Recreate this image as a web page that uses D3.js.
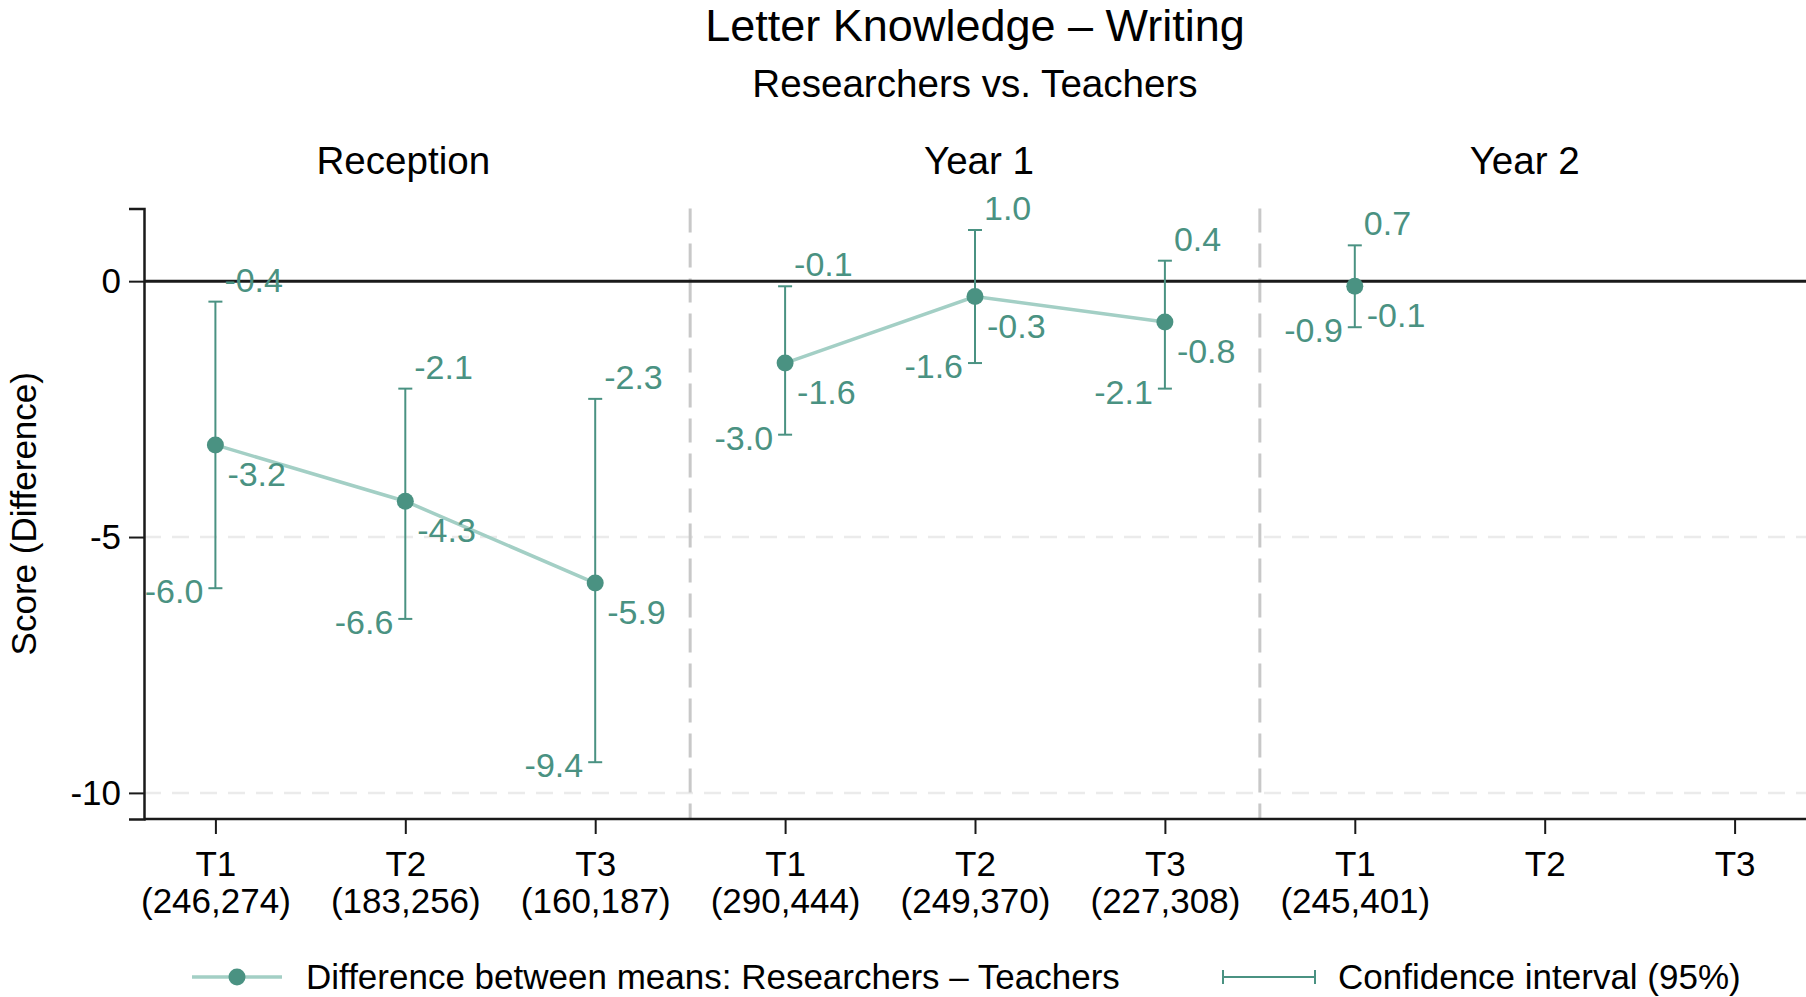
<!DOCTYPE html>
<html>
<head>
<meta charset="utf-8">
<script src="https://cdn.jsdelivr.net/npm/d3@7"></script>
<style>
  body { margin: 0; background: #fff; }
  svg { display: block; font-family: "Liberation Sans", Arial, sans-serif; }
</style>
</head>
<body>
<svg id="chart" width="1806" height="997"></svg>
<script>
// Facets and time points
const groups = ["Reception", "Year 1", "Year 2"];
const times = ["T1", "T2", "T3"];
// Sample sizes (researchers, teachers) shown under each tick
const sampleSizes = [
  "(246,274)", "(183,256)", "(160,187)",
  "(290,444)", "(249,370)", "(227,308)",
  "(245,401)", "", ""
];
// Difference between means and 95% CI, in group/time order
const means = [-3.2, -4.3, -5.9, -1.6, -0.3, -0.8, -0.1, null, null];
const lower = [-6.0, -6.6, -9.4, -3.0, -1.6, -2.1, -0.9, null, null];
const upper = [-0.4, -2.1, -2.3, -0.1, 1.0, 0.4, 0.7, null, null];
const yTicks = [0, -5, -10];

const teal = "#4a9282";
const lightTeal = "#a3cfc5";
const W = 1806, H = 997;
const margin = { top: 208.5, right: 0, bottom: 178, left: 144 };
const titleNudge = [-2, 4, -20]; // facet titles sit slightly off the middle tick

const svg = d3.select("#chart");

// one key per slot, e.g. "Reception|T1"
const keys = [];
groups.forEach((g) => times.forEach((t) => keys.push(g + "|" + t)));

const rows = keys.map((k, i) => ({
  key: k,
  group: k.split("|")[0],
  time: k.split("|")[1],
  n: sampleSizes[i],
  mean: means[i],
  lo: lower[i],
  hi: upper[i],
}));

const x = d3.scalePoint()
  .domain(keys)
  .range([margin.left, W - margin.right])
  .padding(0.376);

const y = d3.scaleLinear()
  .domain([-10.51, 1.42])
  .range([H - margin.bottom, margin.top]);

// Titles
svg.append("text")
  .attr("x", 975).attr("y", 41)
  .attr("text-anchor", "middle")
  .attr("font-size", 45)
  .text("Letter Knowledge – Writing");

svg.append("text")
  .attr("x", 975).attr("y", 97)
  .attr("text-anchor", "middle")
  .attr("font-size", 38.6)
  .text("Researchers vs. Teachers");

// facet titles centred over each group's middle slot
svg.selectAll(".facet-title")
  .data(groups)
  .enter()
  .append("text")
  .attr("class", "facet-title")
  .attr("x", (g, i) => x(g + "|T2") + titleNudge[i])
  .attr("y", 174)
  .attr("text-anchor", "middle")
  .attr("font-size", 38.6)
  .text((g) => g);

// Gridlines (dashed, light)
svg.append("g")
  .selectAll("line")
  .data(yTicks.filter((d) => d !== 0))
  .enter()
  .append("line")
  .attr("x1", margin.left).attr("x2", W - margin.right)
  .attr("y1", (d) => y(d)).attr("y2", (d) => y(d))
  .attr("stroke", "#ebebeb")
  .attr("stroke-width", 2.5)
  .attr("stroke-dasharray", "17,11");

// Group separators halfway between last slot of a group and first of the next
const step = x.step();
svg.append("g")
  .selectAll("line")
  .data(groups.slice(1))
  .enter()
  .append("line")
  .attr("x1", (g) => x(g + "|T1") - step / 2)
  .attr("x2", (g) => x(g + "|T1") - step / 2)
  .attr("y1", margin.top)
  .attr("y2", H - margin.bottom)
  .attr("stroke", "#c8c8c8")
  .attr("stroke-width", 3)
  .attr("stroke-dasharray", "24,11");

// Zero reference line
svg.append("line")
  .attr("x1", margin.left).attr("x2", W - margin.right)
  .attr("y1", y(0)).attr("y2", y(0))
  .attr("stroke", "#1a1a1a")
  .attr("stroke-width", 3);

// Y axis
const yAxis = svg.append("g")
  .attr("transform", `translate(${margin.left},0)`)
  .call(d3.axisLeft(y).tickValues(yTicks).tickSize(15).tickPadding(8).tickFormat(d3.format("d")));
yAxis.select(".domain").attr("stroke", "#1a1a1a").attr("stroke-width", 2.5);
yAxis.selectAll(".tick line").attr("stroke", "#1a1a1a").attr("stroke-width", 2);
yAxis.selectAll(".tick text")
  .attr("font-size", 35)
  .attr("font-family", "Liberation Sans, Arial, sans-serif")
  .attr("fill", "#000")
  .text((d) => (d < 0 ? "-" + Math.abs(d) : d));

svg.append("text")
  .attr("transform", `translate(35.5, ${(margin.top + H - margin.bottom) / 2}) rotate(-90)`)
  .attr("text-anchor", "middle")
  .attr("font-size", 35)
  .text("Score (Difference)");

// X axis
const xAxis = svg.append("g")
  .attr("transform", `translate(0,${H - margin.bottom})`)
  .call(d3.axisBottom(x).tickSize(15).tickFormat(""));
xAxis.select(".domain").attr("stroke", "#1a1a1a").attr("stroke-width", 2.5)
  .attr("d", `M${margin.left},0H${W - margin.right}`);
xAxis.selectAll(".tick line").attr("stroke", "#1a1a1a").attr("stroke-width", 2);

const tickText = xAxis.selectAll(".tick text")
  .text(null)
  .attr("y", null)
  .attr("dy", null)
  .attr("font-size", 35)
  .attr("font-family", "Liberation Sans, Arial, sans-serif")
  .attr("fill", "#000");
tickText.append("tspan")
  .attr("x", 0).attr("y", 57)
  .text((k) => k.split("|")[1]);
tickText.append("tspan")
  .attr("x", 0).attr("y", 94)
  .text((k, i) => sampleSizes[i]);

const valid = rows.filter((d) => d.mean !== null);

// Connecting lines within each group
const line = d3.line().x((d) => x(d.key)).y((d) => y(d.mean));
svg.append("g")
  .selectAll("path")
  .data(groups.map((g) => valid.filter((d) => d.group === g)))
  .enter()
  .append("path")
  .attr("d", line)
  .attr("fill", "none")
  .attr("stroke", lightTeal)
  .attr("stroke-width", 3.5);

// Confidence intervals
const capW = 7;
const ci = svg.append("g")
  .selectAll("g")
  .data(valid)
  .enter()
  .append("g")
  .attr("stroke", teal)
  .attr("stroke-width", 2);
ci.append("line")
  .attr("x1", (d) => x(d.key)).attr("x2", (d) => x(d.key))
  .attr("y1", (d) => y(d.lo)).attr("y2", (d) => y(d.hi));
ci.append("line")
  .attr("x1", (d) => x(d.key) - capW).attr("x2", (d) => x(d.key) + capW)
  .attr("y1", (d) => y(d.lo)).attr("y2", (d) => y(d.lo));
ci.append("line")
  .attr("x1", (d) => x(d.key) - capW).attr("x2", (d) => x(d.key) + capW)
  .attr("y1", (d) => y(d.hi)).attr("y2", (d) => y(d.hi));

// Mean markers
svg.append("g")
  .selectAll("circle")
  .data(valid)
  .enter()
  .append("circle")
  .attr("cx", (d) => x(d.key))
  .attr("cy", (d) => y(d.mean))
  .attr("r", 8.5)
  .attr("fill", teal);

// Value labels
const fmt = d3.format(".1f");
const lbl = (v) => (v < 0 ? "-" + fmt(Math.abs(v)) : fmt(v));
const labels = svg.append("g")
  .attr("font-size", 34)
  .attr("fill", teal);

labels.selectAll(".hi-label")
  .data(valid)
  .enter()
  .append("text")
  .attr("x", (d) => x(d.key) + 9)
  .attr("y", (d) => y(d.hi) - 10)
  .text((d) => lbl(d.hi));

labels.selectAll(".mean-label")
  .data(valid)
  .enter()
  .append("text")
  .attr("x", (d) => x(d.key) + 12)
  .attr("y", (d) => y(d.mean) + 41)
  .text((d) => lbl(d.mean));

labels.selectAll(".lo-label")
  .data(valid)
  .enter()
  .append("text")
  .attr("x", (d) => x(d.key) - 12)
  .attr("y", (d) => y(d.lo) + 15)
  .attr("text-anchor", "end")
  .text((d) => lbl(d.lo));

// Legend
const legend = svg.append("g").attr("transform", "translate(0, 977)");
legend.append("line")
  .attr("x1", 192).attr("x2", 282).attr("y1", 0).attr("y2", 0)
  .attr("stroke", lightTeal).attr("stroke-width", 3.5);
legend.append("circle")
  .attr("cx", 237).attr("cy", 0).attr("r", 8.5).attr("fill", teal);
legend.append("text")
  .attr("x", 306).attr("y", 12)
  .attr("font-size", 35)
  .text("Difference between means: Researchers – Teachers");

const ciKey = legend.append("g").attr("stroke", teal).attr("stroke-width", 2);
ciKey.append("line").attr("x1", 1223).attr("x2", 1315).attr("y1", 0).attr("y2", 0);
ciKey.append("line").attr("x1", 1223).attr("x2", 1223).attr("y1", -7).attr("y2", 7);
ciKey.append("line").attr("x1", 1315).attr("x2", 1315).attr("y1", -7).attr("y2", 7);
legend.append("text")
  .attr("x", 1338).attr("y", 12)
  .attr("font-size", 35)
  .text("Confidence interval (95%)");
</script>
</body>
</html>
